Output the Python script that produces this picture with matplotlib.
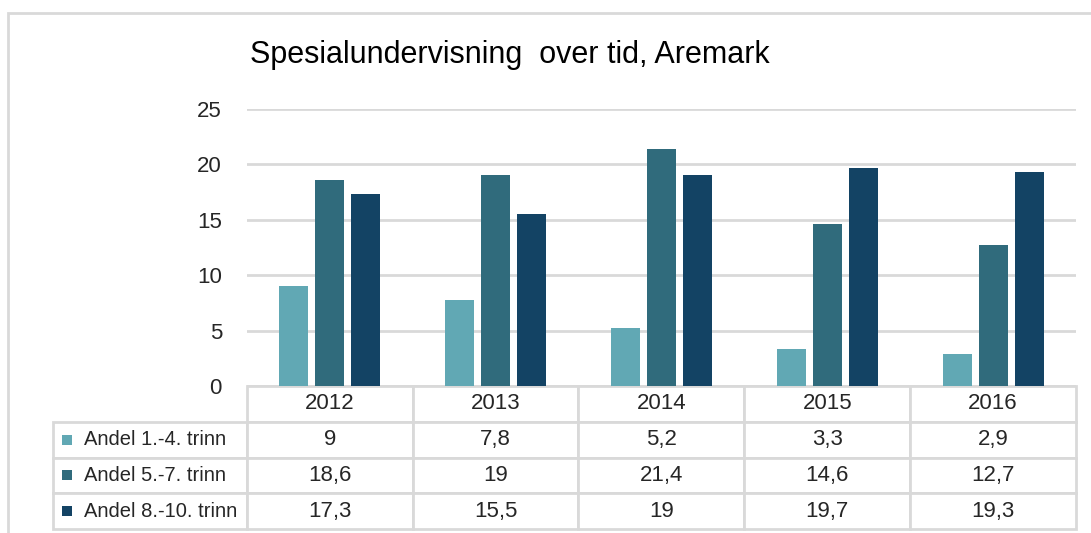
import matplotlib

matplotlib.use("Agg")
import matplotlib.pyplot as plt
from matplotlib.patches import Rectangle
from matplotlib.font_manager import fontManager

YEARS = ["2012", "2013", "2014", "2015", "2016"]
SERIES_LABELS = ["Andel 1.-4. trinn", "Andel 5.-7. trinn", "Andel 8.-10. trinn"]
VALUES_1_4 = [9, 7.8, 5.2, 3.3, 2.9]
VALUES_5_7 = [18.6, 19, 21.4, 14.6, 12.7]
VALUES_8_10 = [17.3, 15.5, 19, 19.7, 19.3]
SERIES_COLORS = ["#61a8b4", "#306b7c", "#134364"]
Y_TICKS = [0, 5, 10, 15, 20, 25]
TITLE = "Spesialundervisning  over tid, Aremark"

GRID_COLOR = "#d9d9d9"
TEXT_COLOR = "#262626"

names = {f.name for f in fontManager.ttflist}
family = ["Liberation Sans Narrow", "Liberation Sans", "DejaVu Sans"]
family = [f for f in family if f in names] or ["DejaVu Sans"]
plt.rcParams["font.family"] = family

W, H = 1091, 533
fig = plt.figure(figsize=(W / 100, H / 100), dpi=100)

# outer chart frame
fig.add_artist(Rectangle((8 / W, -0.1), 1.2, (H - 13) / H + 0.1, transform=fig.transFigure,
                         fill=False, edgecolor=GRID_COLOR, linewidth=2))

ax_left, ax_right, ax_top, ax_bottom = 247, 1076, 109, 386
ax = fig.add_axes([ax_left / W, 1 - ax_bottom / H, (ax_right - ax_left) / W, (ax_bottom - ax_top) / H])

series = [VALUES_1_4, VALUES_5_7, VALUES_8_10]
bar_w = 29 / 166
step = 36 / 166
for i, (vals, color) in enumerate(zip(series, SERIES_COLORS)):
    xs = [k + (i - 1) * step for k in range(len(YEARS))]
    ax.bar(xs, vals, width=bar_w, color=color, zorder=3)

ax.set_xlim(-0.5, len(YEARS) - 0.5)
ax.set_ylim(0, 25)
ax.set_yticks(Y_TICKS)
ax.set_yticklabels([str(t) for t in Y_TICKS], fontsize=16, color=TEXT_COLOR)
ax.tick_params(axis="y", length=0, pad=18)
ax.set_xticks([])
ax.grid(axis="y", color=GRID_COLOR, linewidth=2, zorder=0)
for side in ["top", "right", "left", "bottom"]:
    ax.spines[side].set_visible(False)

fig.text(250 / W, 1 - 55 / H, TITLE, fontsize=22, ha="left", va="center", color="#000000")

# data table under the bars; first column holds the series labels
table_left, table_bottom = 53, 529
ax_w = ax_right - ax_left
ax_h = ax_bottom - ax_top
cell_text = [[label] + [f"{v:g}".replace(".", ",") for v in vals]
             for label, vals in zip(SERIES_LABELS, series)]
table = ax.table(
    cellText=cell_text,
    colLabels=[""] + YEARS,
    cellLoc="center",
    bbox=[(table_left - ax_left) / ax_w, -(table_bottom - ax_bottom) / ax_h,
          (ax_right - table_left) / ax_w, (table_bottom - ax_bottom) / ax_h],
)
table.auto_set_font_size(False)
for (r, c), cell in table.get_celld().items():
    cell.set_edgecolor(GRID_COLOR)
    cell.set_linewidth(2)
    cell.get_text().set_fontsize(16)
    cell.get_text().set_color(TEXT_COLOR)
    if c == 0:
        cell.set_width(ax_left - table_left)
        cell.PAD = 0.16
        cell.get_text().set_fontsize(14.5)
        cell.get_text().set_horizontalalignment("left")
        cell._loc = "left"
        if r == 0:
            cell.visible_edges = ""
    else:
        cell.set_width(166)

# legend keys in the label cells
row_h = (table_bottom - ax_bottom) / 4
for i, color in enumerate(SERIES_COLORS):
    yc = ax_bottom + row_h * (i + 1.5)
    fig.add_artist(Rectangle((62 / W, 1 - (yc + 5) / H), 10 / W, 10 / H,
                             transform=fig.transFigure, facecolor=color, edgecolor="none"))

fig.savefig("out.png", dpi=100)
